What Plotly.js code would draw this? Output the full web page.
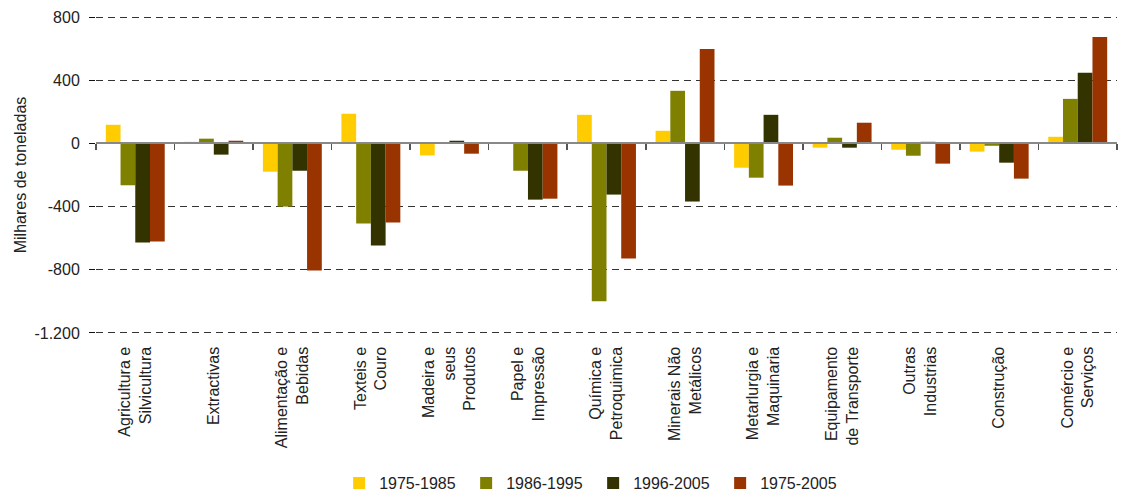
<!DOCTYPE html>
<html>
<head>
<meta charset="utf-8">
<script src="https://cdn.plot.ly/plotly-3.0.1.min.js"></script>
<style>html,body{margin:0;padding:0;background:#fff;}#chart{width:1123px;height:496px;}</style>
</head>
<body>
<div id="chart"></div>
<script>
const categories = ["Agricultura e<br>Silvicultura","Extractivas","Alimentação e<br>Bebidas","Texteis e<br>Couro","Madeira e<br>seus<br>Produtos","Papel e<br>Impressão","Química e<br>Petroquimica","Minerais Não<br>Metálicos","Metarlurgia e<br>Maquinaria","Equipamento<br>de Transporte","Outras<br>Industrias","Construção","Comércio e<br>Serviços"];
const seriesNames = ["1975-1985","1986-1995","1996-2005","1975-2005"];
const v1975_1985 = [118, 10, -179, 188, -76, 2, 181, 80, -154, -27, -40, -52, 42];
const v1986_1995 = [-265, 30, -400, -507, -3, -173, -1000, 333, -217, 36, -78, -15, 282];
const v1996_2005 = [-628, -71, -173, -647, 17, -356, -324, -368, 181, -27, 10, -122, 447];
const v1975_2005 = [-621, 17, -804, -501, -65, -350, -729, 598, -267, 131, -128, -223, 674];
const yTickVals = [800, 400, 0, -400, -800, -1200];
const yTickText = ["800", "400", "0", "-400", "-800", "-1.200"];

const colors = ["#FFCC00", "#808000", "#333300", "#993300"];
const allValues = [v1975_1985, v1986_1995, v1996_2005, v1975_2005];
const font = "Liberation Sans, Arial, sans-serif";

const traces = allValues.map((vals, i) => ({
  type: "bar",
  name: seriesNames[i],
  x: categories,
  y: vals,
  marker: {color: colors[i], line: {width: 0}},
  hoverinfo: "x+y+name"
}));

const yMin = -1213, yMax = 813;
const layout = {
  width: 1123, height: 496,
  margin: {l: 96, r: 6, t: 15, b: 161, pad: 0},
  paper_bgcolor: "#fff", plot_bgcolor: "#fff",
  font: {family: font, size: 16, color: "#222"},
  barmode: "group",
  bargap: 0.25,
  bargroupgap: 0,
  showlegend: true,
  legend: {
    orientation: "h",
    xref: "container", yref: "container",
    x: 0.302, xanchor: "left",
    y: 0.026, yanchor: "middle",
    font: {family: font, size: 16, color: "#222"},
    entrywidth: 82,
    itemwidth: 30,
    traceorder: "normal"
  },
  xaxis: {
    type: "category",
    anchor: "free",
    position: (0 - yMin) / (yMax - yMin),
    showline: true, linecolor: "#888", linewidth: 2,
    ticks: "outside", tickson: "boundaries", ticklen: 6, tickcolor: "#555", tickwidth: 1.5,
    tickangle: -90,
    ticklabelstandoff: 196,
    tickfont: {family: font, size: 16, color: "#222"},
    showgrid: false, zeroline: false,
    automargin: false,
    fixedrange: true
  },
  yaxis: {
    range: [yMin, yMax],
    tickvals: yTickVals, ticktext: yTickText,
    showline: false,
    ticks: "outside", ticklen: 6, tickcolor: "#111",
    ticklabelstandoff: 6,
    tickfont: {family: font, size: 16, color: "#222"},
    showgrid: true, gridcolor: "#333", gridwidth: 1, griddash: "7px,5px",
    zeroline: false,
    automargin: false,
    title: {text: "Milhares de toneladas", font: {family: font, size: 16, color: "#222"}, standoff: 3},
    fixedrange: true
  },
  yaxis2: {
    overlaying: "y",
    range: [-1200, 800],
    domain: [0, 1],
    showline: true, linecolor: "#111", linewidth: 1,
    showticklabels: false, showgrid: false, zeroline: false, ticks: "",
    fixedrange: true
  }
};

Plotly.newPlot("chart", traces, layout, {displayModeBar: false, staticPlot: true});
</script>
</body>
</html>
